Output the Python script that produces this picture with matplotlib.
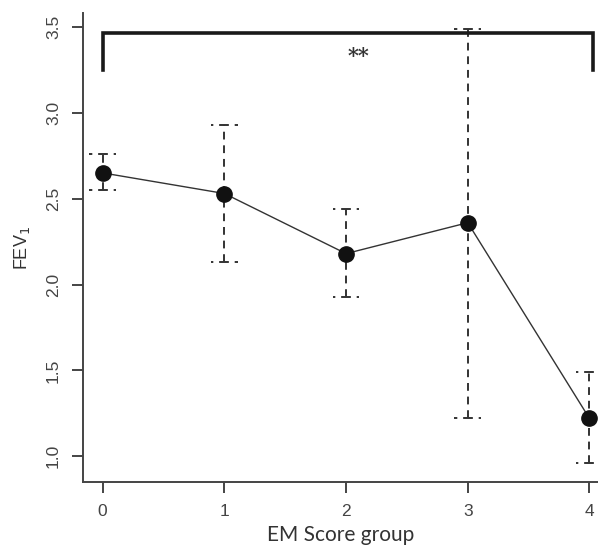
import matplotlib
matplotlib.use("Agg")
import matplotlib.pyplot as plt

# group means and error bar limits
groups = [0, 1, 2, 3, 4]
fev1 = [2.65, 2.53, 2.18, 2.36, 1.22]
lower = [2.55, 2.13, 1.93, 1.22, 0.96]
upper = [2.76, 2.93, 2.44, 3.49, 1.49]

plt.rcParams['font.family'] = ['Liberation Sans', 'DejaVu Sans']

fig = plt.figure(figsize=(5.98, 5.49), dpi=100)
ax = fig.add_axes([0.139, 0.122, 0.861, 0.854])

# dashed error bars with dashed caps
cap = 0.11
dash = (0, (4, 3))
ax.vlines(groups, lower, upper, colors='#333333', linestyles=dash, linewidth=1.4)
# caps drawn from the centre outwards so the dashes are symmetric
for y in (lower, upper):
    ax.hlines(y, groups, [g + cap for g in groups], colors='#333333',
              linestyles=(1.5, (4, 3)), linewidth=1.4)
    ax.hlines(y, groups, [g - cap for g in groups], colors='#333333',
              linestyles=(1.5, (4, 3)), linewidth=1.4)

ax.plot(groups, fev1, '-', color='#333333', linewidth=1, zorder=3)
ax.plot(groups, fev1, 'o', color='#111111', markersize=11, zorder=4)

# significance bracket between group 0 and 4
ax.plot([0, 0, 4.03, 4.03], [3.25, 3.465, 3.465, 3.25], color='#1a1a1a',
        linewidth=2.6, solid_joinstyle='miter', zorder=5)
ax.text(2.1, 3.33, '**', ha='center', va='center', fontsize=15,
        fontweight='bold', color='#333333', family='DejaVu Serif')

ax.set_xlim(-0.16, 4.07)
ax.set_ylim(0.85, 3.58)
ax.set_xticks(groups)
ax.set_yticks([1.0, 1.5, 2.0, 2.5, 3.0, 3.5])
ax.set_yticklabels(['1.0', '1.5', '2.0', '2.5', '3.0', '3.5'], rotation=90, va='center')

for s in ['top', 'right']:
    ax.spines[s].set_visible(False)
for s in ['left', 'bottom']:
    ax.spines[s].set_color('#444444')
    ax.spines[s].set_linewidth(1.4)
ax.tick_params(direction='out', length=8, width=1.4, color='#444444',
               labelcolor='#444444', labelsize=12.5, pad=8)

ax.set_xlabel('EM Score group', fontsize=15, color='#333333', family='Lato', labelpad=4)
ax.set_ylabel('FEV$_1$', fontsize=13, color='#333333', labelpad=10)

fig.savefig('out.png', dpi=100)
